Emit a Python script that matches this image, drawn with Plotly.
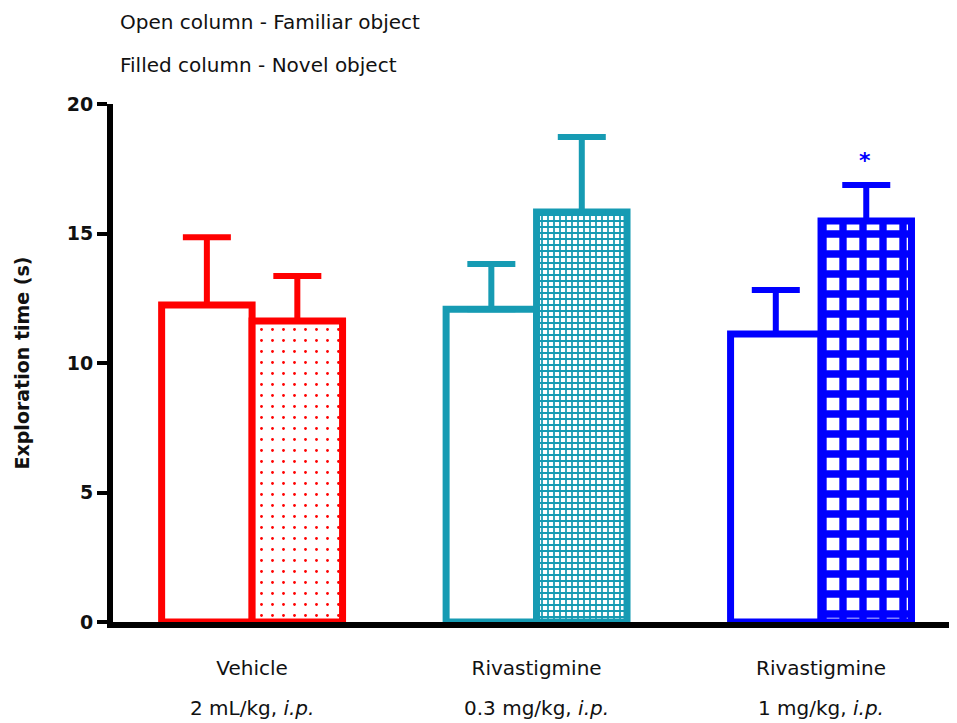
import plotly.graph_objects as go

groups = ["Vehicle", "Riva 0.3", "Riva 1"]
group_names = ["Vehicle", "Rivastigmine", "Rivastigmine"]
group_doses = ["2 mL/kg, <i>i.p.</i>", "0.3 mg/kg, <i>i.p.</i>", "1 mg/kg, <i>i.p.</i>"]
familiar = [12.24, 12.08, 11.12]
familiar_err = [2.62, 1.74, 1.70]
novel = [11.62, 15.83, 15.48]
novel_err = [1.74, 2.90, 1.39]
colors = ["#FF0000", "#169BB3", "#0000FF"]
patterns = [dict(shape=".", size=11, solidity=0.05),
            dict(shape="+", size=6, solidity=0.5),
            dict(shape="+", size=20, solidity=0.6)]
sig = ["", "", "*"]

# plot area in page pixels (page body has an 8px margin)
X0, X1, Y0, Y1 = 113, 957, 104, 622
def px(x, y):
    return (x - X0) / (X1 - X0), (Y1 - y) / (Y1 - Y0)

fig = go.Figure()

for i, g in enumerate(groups):
    c = colors[i]
    # familiar object - open column
    fig.add_trace(go.Bar(
        x=[g], y=[familiar[i]], offsetgroup="familiar",
        marker=dict(color="white", line=dict(color=c, width=7)),
        error_y=dict(type="data", symmetric=False, array=[familiar_err[i]],
                     arrayminus=[0], color=c, thickness=6, width=24),
        showlegend=False))
    # novel object - filled column
    fig.add_trace(go.Bar(
        x=[g], y=[novel[i]], offsetgroup="novel",
        marker=dict(color=c, line=dict(color=c, width=7),
                    pattern=dict(fgcolor=c, bgcolor="white", fillmode="replace", **patterns[i])),
        error_y=dict(type="data", symmetric=False, array=[novel_err[i]],
                     arrayminus=[0], color=c, thickness=6, width=24),
        showlegend=False))
    if sig[i]:
        fig.add_annotation(x=g, y=novel[i] + novel_err[i] + 0.95, xref="x", yref="y",
                           text="<b>" + sig[i] + "</b>", showarrow=False, xshift=44,
                           font=dict(size=22, color=c))
    # second line of the category label
    fig.add_annotation(x=g, y=px(0, 708)[1], xref="x", yref="paper", text=group_doses[i],
                       showarrow=False, yanchor="middle", font=dict(size=20, color="#111111"))

for txt, yy in [("Open column - Familiar object", 22), ("Filled column - Novel object", 65)]:
    ax, ay = px(118, yy)
    fig.add_annotation(x=ax, y=ay, xref="paper", yref="paper", text=txt,
                       showarrow=False, xanchor="left", yanchor="middle",
                       font=dict(size=20, color="#111111"))

fig.update_layout(
    width=957, height=723,
    margin=dict(l=X0 - 8, r=8, t=Y0 - 8, b=723 - (Y1 - 8), autoexpand=False),
    paper_bgcolor="white", plot_bgcolor="white",
    barmode="group", bargap=0.364, bargroupgap=0,
    font=dict(family="DejaVu Sans, sans-serif", size=18, color="#111111"),
)
fig.update_xaxes(
    tickvals=groups, ticktext=group_names, range=[-0.489, 2.478],
    showline=True, linecolor="black", linewidth=6,
    ticks="", showgrid=False, zeroline=False,
    tickfont=dict(size=20), ticklabelstandoff=23,
)
fig.update_yaxes(
    range=[0, 20], tickvals=[0, 5, 10, 15, 20],
    ticktext=["<b>0</b>", "<b>5</b>", "<b>10</b>", "<b>15</b>", "<b>20</b>"],
    showline=True, linecolor="black", linewidth=6,
    ticks="outside", ticklen=10, tickwidth=4, tickcolor="black",
    showgrid=False, zeroline=False,
    title=dict(text="<b>Exploration time (s)</b>", standoff=34, font=dict(size=19)),
    tickfont=dict(size=19),
)

fig.write_html("out.html")
